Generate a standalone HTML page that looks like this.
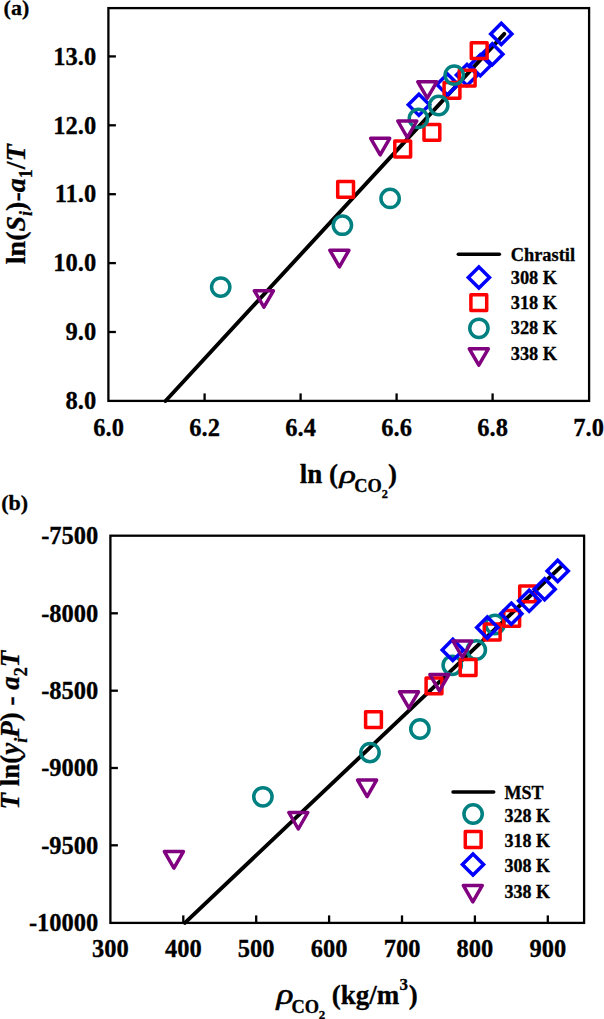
<!DOCTYPE html><html><head><meta charset="utf-8"><style>html,body{margin:0;padding:0;background:#fff;}svg{display:block;}text{font-family:"Liberation Serif", serif;font-weight:bold;stroke:#000;stroke-width:0.3px;}</style></head><body>
<svg width="604" height="1019" viewBox="0 0 604 1019">
<rect width="604" height="1019" fill="#fff"/>
<line x1="165.5" y1="401" x2="504.3" y2="33.9" stroke="#000" stroke-width="3.9" stroke-linecap="round"/>
<line x1="108.4" y1="56.4" x2="115.9" y2="56.4" stroke="#000" stroke-width="2.3"/>
<line x1="108.4" y1="125.3" x2="115.9" y2="125.3" stroke="#000" stroke-width="2.3"/>
<line x1="108.4" y1="194.2" x2="115.9" y2="194.2" stroke="#000" stroke-width="2.3"/>
<line x1="108.4" y1="263.1" x2="115.9" y2="263.1" stroke="#000" stroke-width="2.3"/>
<line x1="108.4" y1="332.0" x2="115.9" y2="332.0" stroke="#000" stroke-width="2.3"/>
<line x1="204.6" y1="400.9" x2="204.6" y2="393.4" stroke="#000" stroke-width="2.3"/>
<line x1="300.6" y1="400.9" x2="300.6" y2="393.4" stroke="#000" stroke-width="2.3"/>
<line x1="396.6" y1="400.9" x2="396.6" y2="393.4" stroke="#000" stroke-width="2.3"/>
<line x1="492.6" y1="400.9" x2="492.6" y2="393.4" stroke="#000" stroke-width="2.3"/>
<rect x="108.4" y="8.1" width="480.7" height="392.8" fill="none" stroke="#000" stroke-width="2.3"/>
<text x="96.2" y="64.6" font-size="24.5" text-anchor="end">13.0</text>
<text x="96.2" y="133.5" font-size="24.5" text-anchor="end">12.0</text>
<text x="96.2" y="202.4" font-size="24.5" text-anchor="end">11.0</text>
<text x="96.2" y="271.3" font-size="24.5" text-anchor="end">10.0</text>
<text x="96.2" y="340.2" font-size="24.5" text-anchor="end">9.0</text>
<text x="96.2" y="409.1" font-size="24.5" text-anchor="end">8.0</text>
<text x="108.6" y="436" font-size="24.5" text-anchor="middle">6.0</text>
<text x="204.6" y="436" font-size="24.5" text-anchor="middle">6.2</text>
<text x="300.6" y="436" font-size="24.5" text-anchor="middle">6.4</text>
<text x="396.6" y="436" font-size="24.5" text-anchor="middle">6.6</text>
<text x="492.6" y="436" font-size="24.5" text-anchor="middle">6.8</text>
<text x="588.6" y="436" font-size="24.5" text-anchor="middle">7.0</text>
<path d="M501.3 23.3L511.9 33.9L501.3 44.5L490.7 33.9Z" fill="none" stroke="#0000ff" stroke-width="3.5" stroke-linejoin="miter"/>
<path d="M492.3 43.7L502.9 54.3L492.3 64.9L481.7 54.3Z" fill="none" stroke="#0000ff" stroke-width="3.5" stroke-linejoin="miter"/>
<path d="M480.3 54.7L490.9 65.3L480.3 75.9L469.7 65.3Z" fill="none" stroke="#0000ff" stroke-width="3.5" stroke-linejoin="miter"/>
<path d="M467.0 64.4L477.6 75.0L467.0 85.6L456.4 75.0Z" fill="none" stroke="#0000ff" stroke-width="3.5" stroke-linejoin="miter"/>
<path d="M447.5 73.9L458.1 84.5L447.5 95.1L436.9 84.5Z" fill="none" stroke="#0000ff" stroke-width="3.5" stroke-linejoin="miter"/>
<path d="M418.9 94.2L429.5 104.8L418.9 115.4L408.3 104.8Z" fill="none" stroke="#0000ff" stroke-width="3.5" stroke-linejoin="miter"/>
<rect x="471.3" y="42.8" width="15.8" height="15.8" fill="none" stroke="#ff0000" stroke-width="3.5" stroke-linejoin="round"/>
<rect x="459.3" y="70.3" width="15.8" height="15.8" fill="none" stroke="#ff0000" stroke-width="3.5" stroke-linejoin="round"/>
<rect x="444.1" y="82.5" width="15.8" height="15.8" fill="none" stroke="#ff0000" stroke-width="3.5" stroke-linejoin="round"/>
<rect x="424.0" y="124.5" width="15.8" height="15.8" fill="none" stroke="#ff0000" stroke-width="3.5" stroke-linejoin="round"/>
<rect x="394.8" y="141.1" width="15.8" height="15.8" fill="none" stroke="#ff0000" stroke-width="3.5" stroke-linejoin="round"/>
<rect x="337.7" y="181.5" width="15.8" height="15.8" fill="none" stroke="#ff0000" stroke-width="3.5" stroke-linejoin="round"/>
<circle cx="454.2" cy="75.1" r="9.15" fill="none" stroke="#008080" stroke-width="3.5"/>
<circle cx="438.7" cy="105.5" r="9.15" fill="none" stroke="#008080" stroke-width="3.5"/>
<circle cx="418.4" cy="118.4" r="9.15" fill="none" stroke="#008080" stroke-width="3.5"/>
<circle cx="390.1" cy="198.4" r="9.15" fill="none" stroke="#008080" stroke-width="3.5"/>
<circle cx="342.4" cy="225.2" r="9.15" fill="none" stroke="#008080" stroke-width="3.5"/>
<circle cx="220.7" cy="287.1" r="9.15" fill="none" stroke="#008080" stroke-width="3.5"/>
<path d="M417.8 81.8L436.8 81.8L427.3 98.2Z" fill="none" stroke="#800080" stroke-width="3.5" stroke-linejoin="round"/>
<path d="M397.8 121.0L416.8 121.0L407.3 137.5Z" fill="none" stroke="#800080" stroke-width="3.5" stroke-linejoin="round"/>
<path d="M370.7 138.3L389.7 138.3L380.2 154.8Z" fill="none" stroke="#800080" stroke-width="3.5" stroke-linejoin="round"/>
<path d="M329.9 250.3L348.9 250.3L339.4 266.8Z" fill="none" stroke="#800080" stroke-width="3.5" stroke-linejoin="round"/>
<path d="M254.4 290.8L273.4 290.8L263.9 307.2Z" fill="none" stroke="#800080" stroke-width="3.5" stroke-linejoin="round"/>
<line x1="458.3" y1="254.2" x2="499.4" y2="254.2" stroke="#000" stroke-width="3.5" stroke-linecap="round"/>
<path d="M478.9 266.9L489.5 277.5L478.9 288.1L468.3 277.5Z" fill="none" stroke="#0000ff" stroke-width="3.5" stroke-linejoin="miter"/>
<rect x="470.9" y="294.8" width="15.8" height="15.8" fill="none" stroke="#ff0000" stroke-width="3.5" stroke-linejoin="round"/>
<circle cx="478.9" cy="328.3" r="9.15" fill="none" stroke="#008080" stroke-width="3.5"/>
<path d="M469.3 348.8L488.3 348.8L478.8 365.2Z" fill="none" stroke="#800080" stroke-width="3.5" stroke-linejoin="round"/>
<text x="510.7" y="261.3" font-size="18.4">Chrastil</text>
<text x="510.7" y="283.8" font-size="18.4">308 K</text>
<text x="510.7" y="308.8" font-size="18.4">318 K</text>
<text x="510.7" y="334.3" font-size="18.4">328 K</text>
<text x="510.7" y="359.8" font-size="18.4">338 K</text>
<text x="3.6" y="15" font-size="22">(a)</text>
<text transform="translate(24.7,264.2) rotate(-90)" font-size="28">ln(<tspan font-style="italic">S</tspan><tspan font-style="italic" font-size="18" dy="7.5">i</tspan><tspan dy="-7.5">)-</tspan><tspan font-style="italic">a</tspan><tspan font-size="18" dy="7.5">1</tspan><tspan dy="-7.5">/</tspan><tspan font-style="italic">T</tspan></text>
<text x="299.8" y="482.7" font-size="27" xml:space="preserve">ln (</text>
<text transform="translate(339.55,482.8) scale(1.3,1)" font-size="26.2" font-style="italic" style="font-weight:normal;stroke-width:0.6px">&#961;</text>
<text x="354.3" y="491.7" font-size="18.4">CO</text>
<text x="381.7" y="497.9" font-size="12.3">2</text>
<text x="387.9" y="482.7" font-size="27">)</text>
<line x1="184.9" y1="922.9" x2="561.2" y2="566.4" stroke="#000" stroke-width="3.9" stroke-linecap="round"/>
<line x1="110.4" y1="613.3" x2="117.9" y2="613.3" stroke="#000" stroke-width="2.3"/>
<line x1="110.4" y1="690.7" x2="117.9" y2="690.7" stroke="#000" stroke-width="2.3"/>
<line x1="110.4" y1="768.0" x2="117.9" y2="768.0" stroke="#000" stroke-width="2.3"/>
<line x1="110.4" y1="845.3" x2="117.9" y2="845.3" stroke="#000" stroke-width="2.3"/>
<line x1="183.3" y1="922.9" x2="183.3" y2="915.4" stroke="#000" stroke-width="2.3"/>
<line x1="256.2" y1="922.9" x2="256.2" y2="915.4" stroke="#000" stroke-width="2.3"/>
<line x1="329.1" y1="922.9" x2="329.1" y2="915.4" stroke="#000" stroke-width="2.3"/>
<line x1="402.0" y1="922.9" x2="402.0" y2="915.4" stroke="#000" stroke-width="2.3"/>
<line x1="474.9" y1="922.9" x2="474.9" y2="915.4" stroke="#000" stroke-width="2.3"/>
<line x1="547.8" y1="922.9" x2="547.8" y2="915.4" stroke="#000" stroke-width="2.3"/>
<rect x="110.4" y="535.7" width="473.7" height="387.2" fill="none" stroke="#000" stroke-width="2.3"/>
<text x="98.3" y="544.2" font-size="24.5" text-anchor="end">-7500</text>
<text x="98.3" y="621.5" font-size="24.5" text-anchor="end">-8000</text>
<text x="98.3" y="698.9" font-size="24.5" text-anchor="end">-8500</text>
<text x="98.3" y="776.2" font-size="24.5" text-anchor="end">-9000</text>
<text x="98.3" y="853.5" font-size="24.5" text-anchor="end">-9500</text>
<text x="98.3" y="930.9" font-size="24.5" text-anchor="end">-10000</text>
<text x="110.4" y="956.5" font-size="24.5" text-anchor="middle">300</text>
<text x="183.3" y="956.5" font-size="24.5" text-anchor="middle">400</text>
<text x="256.2" y="956.5" font-size="24.5" text-anchor="middle">500</text>
<text x="329.1" y="956.5" font-size="24.5" text-anchor="middle">600</text>
<text x="402.0" y="956.5" font-size="24.5" text-anchor="middle">700</text>
<text x="474.9" y="956.5" font-size="24.5" text-anchor="middle">800</text>
<text x="547.8" y="956.5" font-size="24.5" text-anchor="middle">900</text>
<circle cx="262.9" cy="796.8" r="9.15" fill="none" stroke="#008080" stroke-width="3.5"/>
<circle cx="370.0" cy="752.6" r="9.15" fill="none" stroke="#008080" stroke-width="3.5"/>
<circle cx="419.9" cy="729.0" r="9.15" fill="none" stroke="#008080" stroke-width="3.5"/>
<circle cx="452.2" cy="665.3" r="9.15" fill="none" stroke="#008080" stroke-width="3.5"/>
<circle cx="476.3" cy="650.0" r="9.15" fill="none" stroke="#008080" stroke-width="3.5"/>
<circle cx="495.0" cy="624.5" r="9.15" fill="none" stroke="#008080" stroke-width="3.5"/>
<rect x="365.6" y="711.8" width="15.8" height="15.8" fill="none" stroke="#ff0000" stroke-width="3.5" stroke-linejoin="round"/>
<rect x="426.1" y="678.0" width="15.8" height="15.8" fill="none" stroke="#ff0000" stroke-width="3.5" stroke-linejoin="round"/>
<rect x="460.2" y="659.6" width="15.8" height="15.8" fill="none" stroke="#ff0000" stroke-width="3.5" stroke-linejoin="round"/>
<rect x="484.3" y="624.1" width="15.8" height="15.8" fill="none" stroke="#ff0000" stroke-width="3.5" stroke-linejoin="round"/>
<rect x="503.8" y="610.5" width="15.8" height="15.8" fill="none" stroke="#ff0000" stroke-width="3.5" stroke-linejoin="round"/>
<rect x="519.7" y="586.0" width="15.8" height="15.8" fill="none" stroke="#ff0000" stroke-width="3.5" stroke-linejoin="round"/>
<path d="M452.8 639.3L463.4 649.9L452.8 660.5L442.2 649.9Z" fill="none" stroke="#0000ff" stroke-width="3.5" stroke-linejoin="miter"/>
<path d="M487.3 617.0L497.9 627.6L487.3 638.2L476.7 627.6Z" fill="none" stroke="#0000ff" stroke-width="3.5" stroke-linejoin="miter"/>
<path d="M511.3 603.1L521.9 613.7L511.3 624.3L500.7 613.7Z" fill="none" stroke="#0000ff" stroke-width="3.5" stroke-linejoin="miter"/>
<path d="M529.2 590.2L539.8 600.8L529.2 611.4L518.6 600.8Z" fill="none" stroke="#0000ff" stroke-width="3.5" stroke-linejoin="miter"/>
<path d="M544.6 578.6L555.2 589.2L544.6 599.8L534.0 589.2Z" fill="none" stroke="#0000ff" stroke-width="3.5" stroke-linejoin="miter"/>
<path d="M557.7 560.3L568.3 570.9L557.7 581.5L547.1 570.9Z" fill="none" stroke="#0000ff" stroke-width="3.5" stroke-linejoin="miter"/>
<path d="M164.4 851.6L183.4 851.6L173.9 868.1Z" fill="none" stroke="#800080" stroke-width="3.5" stroke-linejoin="round"/>
<path d="M288.8 812.5L307.8 812.5L298.3 829.0Z" fill="none" stroke="#800080" stroke-width="3.5" stroke-linejoin="round"/>
<path d="M357.6 780.1L376.6 780.1L367.1 796.6Z" fill="none" stroke="#800080" stroke-width="3.5" stroke-linejoin="round"/>
<path d="M399.5 691.8L418.5 691.8L409.0 708.2Z" fill="none" stroke="#800080" stroke-width="3.5" stroke-linejoin="round"/>
<path d="M429.9 674.5L448.9 674.5L439.4 690.9Z" fill="none" stroke="#800080" stroke-width="3.5" stroke-linejoin="round"/>
<path d="M452.9 641.0L471.9 641.0L462.4 657.5Z" fill="none" stroke="#800080" stroke-width="3.5" stroke-linejoin="round"/>
<line x1="453" y1="791.9" x2="493.7" y2="791.9" stroke="#000" stroke-width="3.5" stroke-linecap="round"/>
<circle cx="473.1" cy="814.0" r="9.15" fill="none" stroke="#008080" stroke-width="3.5"/>
<rect x="465.3" y="831.6" width="15.8" height="15.8" fill="none" stroke="#ff0000" stroke-width="3.5" stroke-linejoin="round"/>
<path d="M473.0 853.9L483.6 864.5L473.0 875.1L462.4 864.5Z" fill="none" stroke="#0000ff" stroke-width="3.5" stroke-linejoin="miter"/>
<path d="M463.3 885.4L482.3 885.4L472.8 901.8Z" fill="none" stroke="#800080" stroke-width="3.5" stroke-linejoin="round"/>
<text x="504.4" y="799" font-size="18">MST</text>
<text x="504.4" y="821.5" font-size="18">328 K</text>
<text x="504.4" y="846.5" font-size="18">318 K</text>
<text x="504.4" y="872" font-size="18">308 K</text>
<text x="504.4" y="897.5" font-size="18">338 K</text>
<text x="1.3" y="509.9" font-size="22">(b)</text>
<text transform="translate(19,809.6) rotate(-90)" font-size="27"><tspan font-style="italic">T</tspan> ln(<tspan font-style="italic">y</tspan><tspan font-style="italic" font-size="18" dy="7.5">i</tspan><tspan font-style="italic" dy="-7.5">P</tspan>) - <tspan font-style="italic">a</tspan><tspan font-size="18" dy="7.5">2</tspan><tspan font-style="italic" dy="-7.5">T</tspan></text>
<text transform="translate(276.6,1003.9) scale(1.24,1)" font-size="28.4" font-style="italic" style="font-weight:normal;stroke-width:0.6px">&#961;</text>
<text x="291.6" y="1012.9" font-size="18.4">CO</text>
<text x="318.8" y="1019.2" font-size="13">2</text>
<text x="331.8" y="1003.8" font-size="27">(kg/m</text>
<text x="399.4" y="990" font-size="17">3</text>
<text x="408.8" y="1003.8" font-size="27">)</text>
</svg></body></html>
